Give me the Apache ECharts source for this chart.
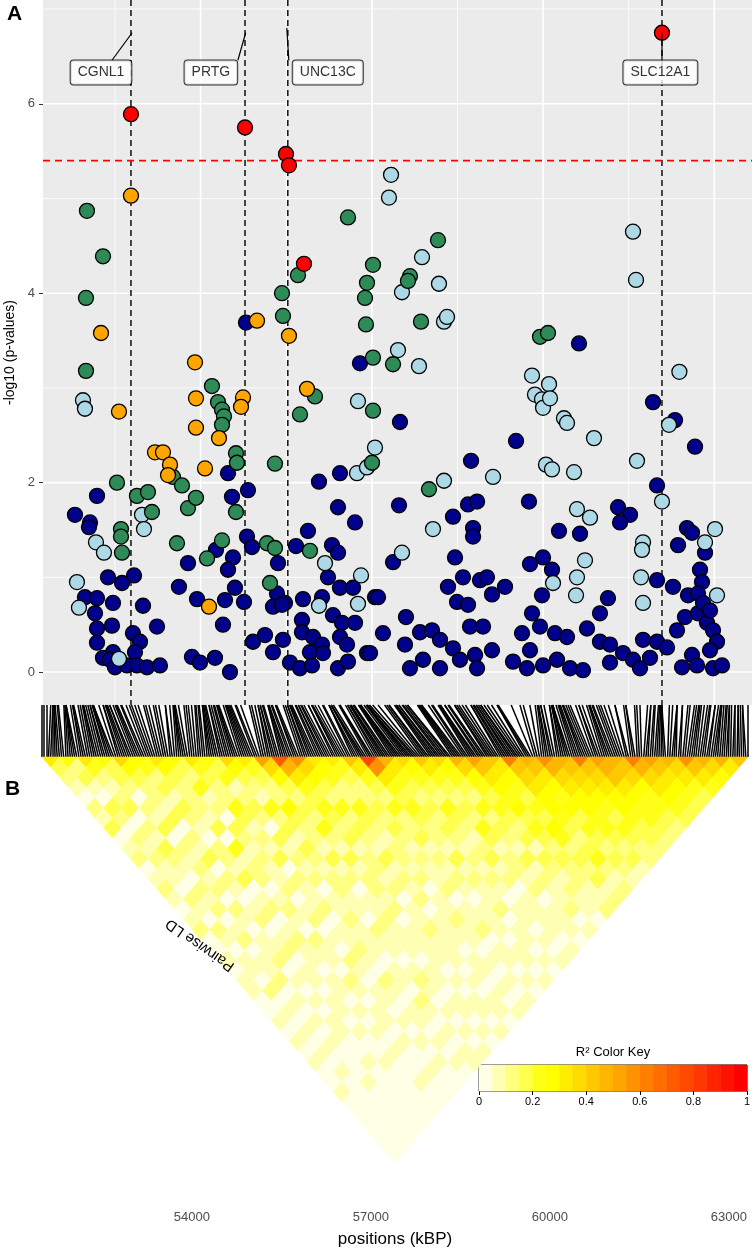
<!DOCTYPE html>
<html>
<head>
<meta charset="utf-8">
<script src="https://cdn.jsdelivr.net/npm/echarts@6/dist/echarts.min.js"></script>
<style>
html, body { margin: 0; padding: 0; background: #fff; }
#chart { width: 754px; height: 1250px; }
</style>
</head>
<body>
<div id="chart"></div>
<script>
// SNPs: [position (kBP), -log10(p)], grouped by LD colour class
var redSnps = [[52780, 5.89], [54778, 5.75], [55496, 5.47], [55548, 5.35], [55811, 4.31], [62083, 6.75]];

var orangeSnps = [[52780, 5.03], [54988, 3.71], [52255, 3.58], [55548, 3.55], [53902, 3.27], [55864, 2.99],
  [52570, 2.75], [53919, 2.89], [54743, 2.90], [54708, 2.80], [53919, 2.58], [54322, 2.47], [53201, 2.32],
  [53341, 2.32], [53464, 2.19], [53429, 2.08], [54077, 2.15], [54147, 0.69]];

var greenSnps = [[52009, 4.87], [56582, 4.80], [52290, 4.39], [55706, 4.19], [57020, 4.30], [56915, 4.11],
  [51992, 3.95], [55426, 4.00], [56880, 3.95], [55443, 3.76], [56897, 3.67], [58159, 4.56], [57668, 4.18],
  [57633, 4.13], [57861, 3.70], [59946, 3.54], [60086, 3.58], [51992, 3.18], [57020, 3.32], [54199, 3.02],
  [56004, 2.91], [54305, 2.85], [54375, 2.77], [54410, 2.70], [54375, 2.61], [55741, 2.72], [57020, 2.76],
  [57371, 3.25], [53516, 2.06], [53674, 1.97], [54620, 2.31], [54637, 2.21], [55303, 2.20], [57003, 2.21],
  [52535, 2.00], [52885, 1.86], [53078, 1.90], [53148, 1.69], [53779, 1.73], [53919, 1.84], [54620, 1.69],
  [52605, 1.51], [52605, 1.43], [52623, 1.26], [53586, 1.36], [55163, 1.36], [55303, 1.31], [54375, 1.39],
  [54112, 1.20], [55916, 1.28], [55216, 0.94], [58001, 1.93]];

var lightBlueSnps = [[57336, 5.25], [57300, 5.01], [61575, 4.65], [57879, 4.38], [57528, 4.01], [58176, 4.10],
  [61628, 4.14], [58264, 3.70], [58317, 3.75], [57458, 3.40], [51939, 2.87], [51974, 2.78], [56757, 2.86],
  [56740, 2.10], [56915, 2.16], [57055, 2.37], [52973, 1.66], [53008, 1.51], [52167, 1.37], [52307, 1.26],
  [56179, 1.15], [56810, 1.02], [51834, 0.95], [56074, 0.70], [56757, 0.72], [51869, 0.68], [57826, 3.23],
  [59806, 3.13], [60104, 3.04], [59858, 2.93], [59981, 2.88], [59999, 2.79], [60121, 2.89], [60366, 2.68],
  [60419, 2.63], [60892, 2.47], [62206, 2.61], [62388, 3.17], [59123, 2.06], [58264, 2.02], [60051, 2.19],
  [60156, 2.14], [60542, 2.11], [61645, 2.23], [62083, 1.80], [58071, 1.51], [60594, 1.72], [60822, 1.63],
  [61751, 1.37], [61733, 1.29], [63012, 1.51], [62837, 1.37], [57528, 1.26], [60174, 0.94], [60734, 1.18],
  [60594, 1.00], [60577, 0.81], [61716, 1.00], [61751, 0.73], [63047, 0.81], [52570, 0.14]];

var darkBlueSnps = [[54795, 3.69], [60629, 3.47], [56792, 3.26], [54480, 2.10], [56074, 2.01], [56442, 2.10],
  [52185, 1.86], [54550, 1.85], [54830, 1.92], [51799, 1.66], [52062, 1.58], [52044, 1.53], [55881, 1.49],
  [56407, 1.74], [56705, 1.58], [54813, 1.43], [54900, 1.32], [54270, 1.29], [54567, 1.21], [54480, 1.08],
  [53779, 1.15], [55671, 1.33], [56302, 1.34], [56407, 1.26], [55356, 1.15], [56232, 1.00], [56442, 0.89],
  [56670, 0.89], [57055, 0.79], [52377, 1.00], [52623, 0.94], [52833, 1.02], [53621, 0.90], [54602, 0.89],
  [55338, 0.83], [55478, 0.73], [55794, 0.77], [56127, 0.79], [51974, 0.79], [52185, 0.78], [52465, 0.73],
  [52150, 0.62], [52991, 0.70], [53937, 0.77], [54427, 0.76], [54760, 0.74], [55268, 0.69], [55426, 0.71],
  [52185, 0.46], [52447, 0.49], [53236, 0.48], [54392, 0.50], [55776, 0.55], [55776, 0.42], [56319, 0.60],
  [56477, 0.52], [56705, 0.52], [52185, 0.31], [52465, 0.21], [52290, 0.15], [52815, 0.41], [52938, 0.32],
  [52850, 0.21], [54918, 0.32], [55128, 0.39], [55443, 0.34], [55268, 0.21], [55969, 0.37], [56127, 0.29],
  [55916, 0.21], [56144, 0.20], [56442, 0.37], [56565, 0.29], [56915, 0.20], [52412, 0.13], [52500, 0.05],
  [52710, 0.07], [52885, 0.07], [53061, 0.05], [53288, 0.07], [53849, 0.16], [53989, 0.10], [54252, 0.15],
  [54515, 0.00], [55566, 0.10], [55741, 0.04], [55951, 0.07], [56407, 0.04], [56582, 0.11],
  [61926, 2.85], [62311, 2.66], [62662, 2.38], [57493, 2.64], [59526, 2.44], [58738, 2.23], [61996, 1.97],
  [59753, 1.80], [58685, 1.77], [58843, 1.80], [57476, 1.76], [58422, 1.64], [58773, 1.52], [58773, 1.43],
  [60647, 1.46], [60279, 1.49], [61313, 1.74], [61523, 1.66], [61348, 1.58], [62521, 1.52], [62609, 1.47],
  [62364, 1.34], [62837, 1.26], [58457, 1.21], [57371, 1.16], [59771, 1.14], [59999, 1.21], [60156, 1.08],
  [61996, 0.97], [62276, 0.90], [62539, 0.81], [62749, 1.08], [62784, 0.95], [57108, 0.79], [57598, 0.58],
  [58334, 0.90], [58597, 1.00], [58895, 0.97], [59017, 1.00], [59105, 0.82], [59333, 0.90], [58492, 0.74],
  [58685, 0.71], [59981, 0.81], [59806, 0.62], [61137, 0.78], [60997, 0.62],
  [57195, 0.41], [57581, 0.29], [57844, 0.42], [58054, 0.44], [58194, 0.34], [58422, 0.25], [58720, 0.48],
  [58948, 0.48], [58808, 0.18], [59105, 0.23], [57896, 0.13], [57668, 0.04], [58194, 0.04], [58544, 0.13],
  [58843, 0.04], [59631, 0.41], [59946, 0.48], [59771, 0.23], [60209, 0.41], [60419, 0.37], [59473, 0.11],
  [59718, 0.04], [59999, 0.07], [60244, 0.13], [60472, 0.04], [60699, 0.02], [60769, 0.46], [60997, 0.32],
  [61172, 0.29], [61400, 0.20], [61575, 0.13], [61698, 0.04], [61172, 0.10], [61751, 0.34], [61996, 0.32],
  [61873, 0.15], [62171, 0.26], [62346, 0.44], [62486, 0.58], [62714, 0.62], [62872, 0.52], [62977, 0.44],
  [63047, 0.32], [62924, 0.23], [62609, 0.18], [62434, 0.05], [62697, 0.07], [62977, 0.04], [63135, 0.07],
  [62714, 0.83], [62802, 0.73], [62924, 0.65], [56968, 0.20]];

// candidate genes
var geneNames = ['CGNL1', 'PRTG', 'UNC13C', 'SLC12A1'];
var genePositions = [52780, 54778, 55528, 62083];
var geneLabelPos = [[52255, 6.33], [54180, 6.33], [56228, 6.33], [62055, 6.33]];
var geneLeaders = [[52800, 6.75, 52448, 6.46], [54790, 6.75, 54653, 6.46], [55510, 6.80, 55545, 6.46], [62083, 6.75, 62083, 6.46]];
var threshold = 5.4;

// axis breaks
var yTicks = [0, 2, 4, 6];
var xMajorBreaks = [54000, 57000, 60000, 63000];
var xMinorBreaks = [52500, 55500, 58500, 61500];
var yMajorBreaks = [0, 2, 4, 6];
var yMinorBreaks = [1, 3, 5, 7];
var positionTicks = [54000, 57000, 60000, 63000];

// pairwise LD between 40 SNP bins, row i holds bins i..39; each char is r2 in 1/20 steps (base 20)
var ldRows = [
  '63210 21301 20121 01200 10110 01010 10010 00000',
  '52310 32021 21102 10210 11020 10101 01000 0000',
  '64212 30213 21021 20120 11201 01010 00100 000',
  '53320 21302 12120 21011 20101 01100 10000 00',
  '75322 13021 30210 12012 01101 10100 10000 0',
  '54231 32102 21301 20121 10110 10101 00100',
  '65322 21304 12201 21021 10210 11010 0100',
  '53241 20321 21120 12010 21011 01010 100',
  '64322 43121 30211 20112 10210 11010 10',
  '53412 32031 21201 12111 01102 10101 1',
  '75321 42313 21221 10211 01210 10101',
  '64322 53221 31201 12111 01101 1010',
  'a7532 32421 31221 20111 10101 101',
  'e9643 43231 22120 11211 10101 10',
  'b7532 42321 31212 01110 11010 1',
  '65422 43212 21201 12110 10101',
  '64322 32321 21120 11201 1010',
  '86432 42231 21210 11101 101',
  'fb643 43221 31211 20110 10',
  '96432 32321 21210 11010 1',
  '75432 43212 31201 11101',
  '86432 32431 22120 1110',
  '75432 42321 31211 201',
  '97543 43231 32121 10',
  'a8654 53432 32211 2',
  '86543 43542 32312',
  'c8765 54323 4212',
  '98654 53432 321',
  'b9765 54432 31',
  '98765 43432 2',
  'c8765 54332',
  'a9865 4432',
  '98754 432',
  'c9765 43',
  'a8654 3',
  '97643',
  'b864',
  '975',
  '96',
  '8'
];

// R2 colour key
var keyBreaks = [0, 0.05, 0.1, 0.15, 0.2, 0.25, 0.3, 0.35, 0.4, 0.45, 0.5, 0.55, 0.6, 0.65, 0.7, 0.75, 0.8, 0.85, 0.9, 0.95];
var keyColors = ['#FFFFE6', '#FFFFB3', '#FFFF80', '#FFFF4D', '#FFFF1A', '#FFFF00', '#FFED00', '#FFDB00', '#FFC800', '#FFB600',
  '#FFA400', '#FF9200', '#FF8000', '#FF6D00', '#FF5B00', '#FF4900', '#FF3700', '#FF2400', '#FF1200', '#FF0000'];
var keyTicks = [0, 0.2, 0.4, 0.6, 0.8, 1];

var FONT = 'Liberation Sans, Arial, sans-serif';

// LD cells
var ldBins = ldRows.length;
var ldCells = [];
ldRows.forEach(function (row, i) {
  var s = row.replace(/ /g, '');
  for (var k = 0; k < s.length; k++) {
    ldCells.push([i, i + k, parseInt(s[k], 20)]);
  }
});

// genetic map lines: SNP position -> SNP index on the heatmap edge
var allPositions = [].concat(redSnps, orangeSnps, greenSnps, lightBlueSnps, darkBlueSnps)
  .map(function (p) { return p[0]; })
  .sort(function (a, b) { return a - b; });
var posMin = allPositions[0];
var posMax = allPositions[allPositions.length - 1];
var mapLines = allPositions.map(function (p, k) {
  var idxPos = posMin + (k / (allPositions.length - 1)) * (posMax - posMin);
  return { coords: [[p, 1], [idxPos, 0]] };
});

function snpSeries(data, color) {
  return {
    type: 'scatter', xAxisIndex: 0, yAxisIndex: 0, data: data, symbolSize: 15, z: 3, silent: true,
    itemStyle: { color: color, borderColor: '#000', borderWidth: 1.3, opacity: 1 }
  };
}

var chart = echarts.init(document.getElementById('chart'), null, { renderer: 'canvas' });

chart.setOption({
  animation: false,
  backgroundColor: '#fff',
  textStyle: { fontFamily: FONT },
  grid: [
    { left: 43, right: 2, top: 0, height: 705, show: true, backgroundColor: '#ebebeb', borderWidth: 0, outerBoundsMode: 'none' },
    { left: 42, right: 6, top: 705, height: 52, outerBoundsMode: 'none' },
    { left: 42, right: 6, top: 757, height: 406, outerBoundsMode: 'none' },
    { left: 479, right: 7, top: 1065, height: 26, show: true, borderColor: '#000', borderWidth: 1, outerBoundsMode: 'none' },
    { left: 42, right: 6, top: 1198, height: 10, outerBoundsMode: 'none' }
  ],
  xAxis: [
    { gridIndex: 0, type: 'value', min: 51239, max: 63660, show: false },
    { gridIndex: 1, type: 'value', min: posMin, max: posMax, show: false },
    { gridIndex: 2, type: 'value', min: 0, max: ldBins, show: false },
    {
      gridIndex: 3, type: 'value', min: 0, max: 1, splitLine: { show: false },
      axisLine: { show: false },
      axisTick: { show: true, length: 4, lineStyle: { color: '#000' }, customValues: keyTicks },
      axisLabel: { customValues: keyTicks, color: '#000', fontSize: 11, margin: 5, fontFamily: FONT,
        formatter: function (v) { return String(v); } }
    },
    {
      gridIndex: 4, type: 'value', min: 51490, max: 63320, splitLine: { show: false },
      axisLine: { show: false }, axisTick: { show: false },
      axisLabel: { customValues: positionTicks, color: '#4d4d4d', fontSize: 13, margin: 3, fontFamily: FONT,
        formatter: function (v) { return String(v); } },
      name: 'positions (kBP)', nameLocation: 'middle', nameGap: 23,
      nameTextStyle: { fontSize: 17, color: '#000', fontFamily: FONT }
    }
  ],
  yAxis: [
    {
      gridIndex: 0, type: 'value', min: -0.348, max: 7.096, splitLine: { show: false },
      axisLine: { show: false },
      axisTick: { show: true, length: 4, lineStyle: { color: '#333' }, customValues: yTicks },
      axisLabel: { customValues: yTicks, color: '#4d4d4d', fontSize: 13, margin: 8, fontFamily: FONT },
      name: '-log10 (p-values)', nameLocation: 'middle', nameGap: 20,
      nameTextStyle: { fontSize: 14, color: '#000', fontFamily: FONT }
    },
    { gridIndex: 1, type: 'value', min: 0, max: 1, show: false },
    { gridIndex: 2, type: 'value', min: 0, max: ldBins / 2, inverse: true, show: false },
    { gridIndex: 3, type: 'value', min: 0, max: 1, show: false },
    { gridIndex: 4, type: 'value', min: 0, max: 1, show: false }
  ],
  graphic: [
    { type: 'text', left: 7, top: 4, style: { text: 'A', font: 'bold 21px ' + FONT, fill: '#000' } },
    { type: 'text', left: 5, top: 779, style: { text: 'B', font: 'bold 21px ' + FONT, fill: '#000' } },
    { type: 'text', x: 200, y: 945, rotation: 2.53, z: 10,
      style: { text: 'Pairwise LD', font: '15px ' + FONT, fill: '#000', align: 'center', verticalAlign: 'middle' } },
    { type: 'text', x: 613, y: 1052,
      style: { text: 'R² Color Key', font: '13px ' + FONT, fill: '#000', align: 'center', verticalAlign: 'middle' } }
  ],
  series: [
    // panel grid lines
    {
      type: 'custom', xAxisIndex: 0, yAxisIndex: 0, z: 1, silent: true,
      data: xMajorBreaks.map(function (v) { return [v, 1]; }).concat(xMinorBreaks.map(function (v) { return [v, 0]; })),
      renderItem: function (params, api) {
        var cs = params.coordSys;
        var x = api.coord([api.value(0), 0])[0];
        return { type: 'line', shape: { x1: x, y1: cs.y, x2: x, y2: cs.y + cs.height },
          style: { stroke: '#fff', lineWidth: api.value(1) ? 1.6 : 0.8 } };
      }
    },
    {
      type: 'custom', xAxisIndex: 0, yAxisIndex: 0, z: 1, silent: true,
      data: yMajorBreaks.map(function (v) { return [v, 1]; }).concat(yMinorBreaks.map(function (v) { return [v, 0]; })),
      renderItem: function (params, api) {
        var cs = params.coordSys;
        var y = api.coord([60000, api.value(0)])[1];
        return { type: 'line', shape: { x1: cs.x, y1: y, x2: cs.x + cs.width, y2: y },
          style: { stroke: '#fff', lineWidth: api.value(1) ? 1.6 : 0.8 } };
      }
    },
    // gene position lines
    {
      type: 'custom', xAxisIndex: 0, yAxisIndex: 0, z: 2, silent: true,
      data: genePositions.map(function (v) { return [v, 0]; }),
      renderItem: function (params, api) {
        var cs = params.coordSys;
        var x = api.coord([api.value(0), 0])[0];
        return { type: 'line', shape: { x1: x, y1: cs.y, x2: x, y2: cs.y + cs.height },
          style: { stroke: '#000', lineWidth: 1.4, lineDash: [6, 4] } };
      }
    },
    // significance threshold
    {
      type: 'custom', xAxisIndex: 0, yAxisIndex: 0, z: 2, silent: true,
      data: [[60000, threshold]],
      renderItem: function (params, api) {
        var cs = params.coordSys;
        var y = api.coord([60000, api.value(1)])[1];
        return { type: 'line', shape: { x1: cs.x, y1: y, x2: cs.x + cs.width, y2: y },
          style: { stroke: '#ff0000', lineWidth: 1.7, lineDash: [7, 5] } };
      }
    },
    snpSeries(darkBlueSnps, '#00008B'),
    snpSeries(lightBlueSnps, '#ADD8E6'),
    snpSeries(greenSnps, '#2E8B57'),
    snpSeries(orangeSnps, '#FFA500'),
    snpSeries(redSnps, '#FF0000'),
    // label leaders
    {
      type: 'custom', xAxisIndex: 0, yAxisIndex: 0, z: 4, silent: true,
      data: geneLeaders,
      renderItem: function (params, api) {
        var a = api.coord([api.value(0), api.value(1)]);
        var b = api.coord([api.value(2), api.value(3)]);
        return { type: 'line', shape: { x1: a[0], y1: a[1], x2: b[0], y2: b[1] },
          style: { stroke: '#000', lineWidth: 1.2 } };
      }
    },
    // gene labels
    {
      type: 'scatter', xAxisIndex: 0, yAxisIndex: 0, z: 5, silent: true, symbolSize: 1,
      itemStyle: { color: 'rgba(0,0,0,0)' },
      data: geneNames.map(function (n, k) { return { name: n, value: geneLabelPos[k] }; }),
      label: {
        show: true, position: 'inside', formatter: '{b}', color: '#000', fontSize: 14, fontFamily: FONT,
        backgroundColor: '#fff', borderColor: '#000', borderWidth: 1, borderRadius: 3, padding: [5, 7]
      }
    },
    // genetic map lines
    {
      type: 'lines', coordinateSystem: 'cartesian2d', xAxisIndex: 1, yAxisIndex: 1, silent: true,
      data: mapLines, lineStyle: { color: '#000', width: 1.5, opacity: 1 }
    },
    // LD heatmap
    {
      type: 'custom', xAxisIndex: 2, yAxisIndex: 2, silent: true,
      data: ldCells,
      renderItem: function (params, api) {
        var i = api.value(0), j = api.value(1), lv = api.value(2);
        var pts;
        if (i === j) {
          pts = [api.coord([i, 0]), api.coord([i + 1, 0]), api.coord([i + 0.5, 0.5])];
        } else {
          pts = [api.coord([(i + j) / 2, (j - i) / 2]), api.coord([(i + j + 1) / 2, (j - i - 1) / 2]),
            api.coord([(i + j + 2) / 2, (j - i) / 2]), api.coord([(i + j + 1) / 2, (j - i + 1) / 2])];
        }
        var c = keyColors[Math.min(lv, keyColors.length - 1)];
        return { type: 'polygon', shape: { points: pts }, style: { fill: c, stroke: c, lineWidth: 0.6 } };
      }
    },
    // colour key
    {
      type: 'custom', xAxisIndex: 3, yAxisIndex: 3, silent: true,
      data: keyBreaks.map(function (b, k) { return [b, k]; }),
      renderItem: function (params, api) {
        var k = api.value(1);
        var x0 = api.value(0);
        var x1 = k + 1 < keyBreaks.length ? keyBreaks[k + 1] : 1;
        var p0 = api.coord([x0, 1]);
        var p1 = api.coord([x1, 0]);
        return { type: 'rect', shape: { x: p0[0], y: p0[1], width: p1[0] - p0[0], height: p1[1] - p0[1] },
          style: { fill: keyColors[k], stroke: keyColors[k], lineWidth: 0.5 } };
      }
    }
  ]
});
</script>
</body>
</html>
